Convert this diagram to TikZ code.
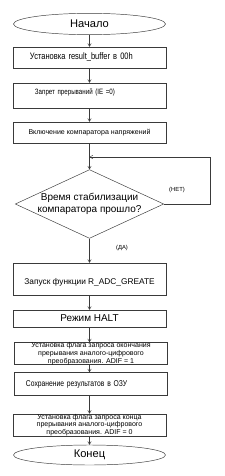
\documentclass[tikz,border=0pt]{standalone}
\usepackage{fontspec}
\setmainfont{Liberation Sans}
\newfontfamily\narrowfont[FakeStretch=0.8]{Liberation Sans}
\usetikzlibrary{arrows.meta, shapes.geometric, positioning}
\definecolor{FC_LINE}{HTML}{3A3A3A}
\tikzset{
  %% -- terminator (start / end) --
  FC/term/.style={
    draw=FC_LINE, ellipse, minimum width=4.56cm, minimum height=0.64cm,
    inner sep=0pt, font=\fontsize{9.5}{10}\selectfont
  },
  %% -- process box --
  FC/box/.style={
    draw=FC_LINE, rectangle, minimum width=4.59cm,
    inner sep=1pt, align=center
  },
  %% -- process box, text set to the left --
  FC/lbox/.style={FC/box, align=left, text width=3.57cm, inner xsep=0.51cm},
  %% -- decision --
  FC/dec/.style={
    draw=FC_LINE, diamond, aspect=2.16, minimum width=4.41cm,
    minimum height=2.04cm, inner sep=0pt, align=center,
    font=\fontsize{8.5}{9.6}\selectfont
  },
  %% -- connector --
  FC/arr/.style={-{Straight Barb[length=2.5pt,width=3pt]}, draw=FC_LINE, line width=0.4pt},
  %% -- branch label --
  FC/lbl/.style={font=\fontsize{5}{6}\selectfont, inner sep=0pt},
}
\begin{document}
\begin{tikzpicture}[x=0.03cm, y=-0.03cm]
%% ── canvas: 224 x 476 px ─────────────────────────────────────
\useasboundingbox (0,0) rectangle (224,476);
\pgfmathsetmacro{\xC}{89.5}  % main column

%% ── Blocks ───────────────────────────────────────────────────
\node[FC/term] (start) at (\xC,24) {Начало};
\node[FC/lbox, minimum height=0.63cm, font=\narrowfont\fontsize{8}{9}\selectfont]
  (buf) at (\xC,57.5) {Установка result\_buffer  в 00h};
\node[FC/lbox, minimum height=0.75cm, text depth=0.26cm,
  font=\narrowfont\fontsize{6.6}{7}\selectfont]
  (ie) at (\xC,95.5) {\hspace{0.15cm}Запрет прерываний (IE =0)};
\node[FC/box, minimum height=0.63cm, font=\fontsize{6}{6.5}\selectfont]
  (cmp) at (\xC,132.5) {Включение компаратора напряжений};
\node[FC/dec] (wait) at (\xC,204) {Время стабилизации\\компаратора прошло?};
\node[FC/box, minimum height=0.96cm, text height=0.36cm,
  font=\fontsize{7.1}{8}\selectfont]
  (adc) at (\xC,279) {Запуск функции R\_ADC\_GREATE};
\node[FC/box, minimum height=0.51cm, font=\fontsize{8.5}{9}\selectfont]
  (halt) at (\xC,318.5) {Режим HALT};
\node[FC/box, minimum height=0.51cm, inner sep=0pt, font=\fontsize{6}{5}\selectfont]
  (set1) at (\xC+1.5,353.5) {Установка флага запроса окончания\\
  прерывания  аналого-цифрового\\преобразования. ADIF = 1};
\node[FC/lbox, minimum height=0.69cm, inner xsep=0.36cm, text width=3.87cm,
  font=\narrowfont\fontsize{7.2}{8}\selectfont]
  (ram) at (\xC+1,384) {Сохранение результатов  в ОЗУ};
\node[FC/box, minimum height=0.6cm, inner sep=0pt, font=\fontsize{6}{5.3}\selectfont]
  (set0) at (\xC,425) {Установка флага запроса конца\\
  прерывания  аналого-цифрового\\преобразования. ADIF = 0};
\node[FC/term, minimum height=0.6cm] (stop) at (\xC,455) {Конец};

%% ── Connectors ───────────────────────────────────────────────
\coordinate (join) at (\xC,157);
\draw[FC/arr] (start) -- (buf);
\draw[FC/arr] (buf) -- (ie);
\draw[FC/arr] (ie) -- (cmp);
\draw[FC/arr] (cmp) -- (wait);
\draw[FC/arr] (wait) -- (adc);
\draw[FC/arr] (adc) -- (halt);
\draw[FC/arr] (halt) -- (halt.south |- set1.north);
\draw[FC/arr] (halt.south |- set1.south) -- (halt.south |- ram.north);
\draw[FC/arr] (halt.south |- ram.south) -- (set0);
\draw[FC/arr] (set0) -- (stop);

%% loop back (НЕТ)
\draw[FC/arr] (wait.east) -| (210,157) -- (join);

%% ── Branch labels ────────────────────────────────────────────
\node[FC/lbl] (no) at (177,190) {(НЕТ)};
\node[FC/lbl] (yes) at (122,248) {(ДА)};

\end{tikzpicture}
\end{document}
